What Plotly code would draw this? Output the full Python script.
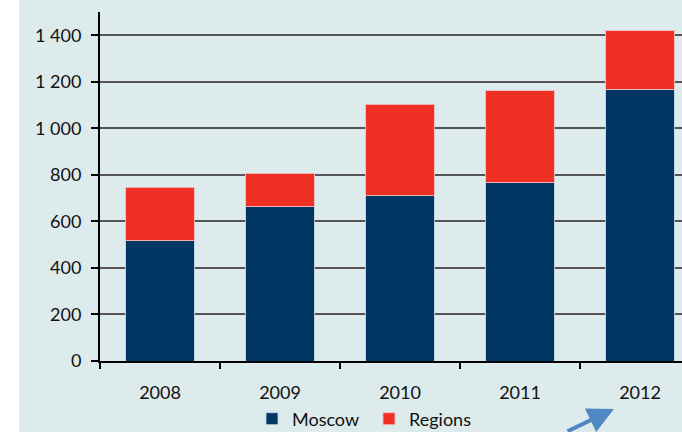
import plotly.graph_objects as go

years = ["2008", "2009", "2010", "2011", "2012"]
moscow = [516, 664, 711, 767, 1169]
regions = [231, 143, 393, 394, 250]
ytick_vals = [0, 200, 400, 600, 800, 1000, 1200, 1400]
ytick_text = ["0", "200", "400", "600", "800", "1 000", "1 200", "1 400"]

BG = "#DEEBEC"
W, H = 682, 432
L, R, T, B = 100, 0, 12, 71
pw, ph = W - L - R, H - T - B

def px_x(p):
    return (p - L) / pw

def px_y(p):
    return (H - B - p) / ph

fig = go.Figure()
fig.add_trace(go.Bar(x=years, y=moscow, name="Moscow",
                     marker=dict(color="#003764", line=dict(color="rgba(190,210,225,0.9)", width=1))))
fig.add_trace(go.Bar(x=years, y=regions, name="Regions",
                     marker=dict(color="#EE3124", line=dict(color="rgba(240,190,190,0.9)", width=1))))

fig.update_layout(
    width=W, height=H,
    barmode="stack", bargap=0.43,
    paper_bgcolor=BG, plot_bgcolor=BG,
    margin=dict(l=L, r=R, t=T, b=B, pad=0, autoexpand=False),
    font=dict(family="Lato", size=18, color="#111111"),
    showlegend=True,
    legend=dict(orientation="h", xref="container", yref="container",
                x=252 / W, y=(H - 419) / H, xanchor="left", yanchor="middle",
                font=dict(size=18), bgcolor="rgba(0,0,0,0)", traceorder="normal",
                itemwidth=30, entrywidth=72),
    xaxis=dict(type="category", range=[-0.5, 4.35], showgrid=False,
               showline=True, linecolor="black", linewidth=2,
               ticks="outside", tickson="boundaries", ticklen=6, tickwidth=2, tickcolor="black",
               ticklabelstandoff=14, zeroline=False),
    yaxis=dict(range=[0, 1500], tickvals=ytick_vals, ticktext=ytick_text,
               showgrid=True, gridcolor="#555555", gridwidth=1.5,
               showline=True, linecolor="black", linewidth=2,
               ticks="outside", ticklen=7, tickwidth=2, tickcolor="black",
               ticklabelstandoff=6, zeroline=False),
    shapes=[dict(type="rect", xref="paper", yref="paper",
                 x0=px_x(0), x1=px_x(19), y0=px_y(H + 2), y1=px_y(-2),
                 fillcolor="white", line=dict(width=0), layer="below")],
    annotations=[dict(xref="paper", yref="paper", x=px_x(614), y=px_y(409),
                      ax=-48, ay=30, text="", showarrow=True,
                      arrowhead=2, arrowsize=1.3, arrowwidth=4, arrowcolor="#4F88C2")],
)

fig.write_html("out.html", config={"displayModeBar": False},
               post_script="document.body.style.margin='0px';document.body.style.overflow='hidden';")
